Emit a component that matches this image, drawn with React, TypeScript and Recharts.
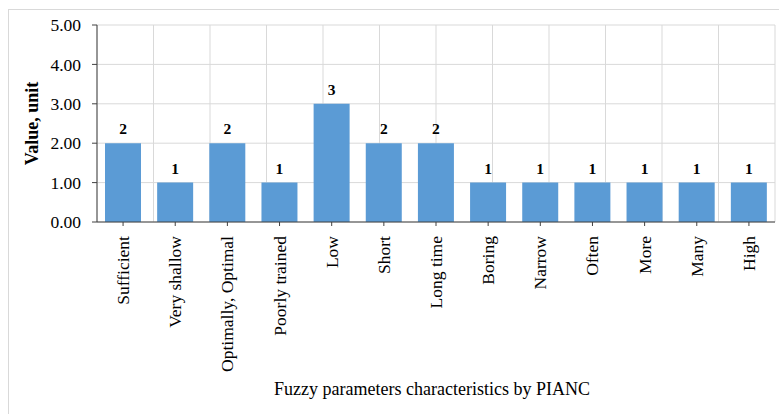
import React from "react";
import { BarChart, Bar, XAxis, YAxis, CartesianGrid, LabelList, Label } from "recharts";

const categories = [
  "Sufficient",
  "Very shallow",
  "Optimally, Optimal",
  "Poorly trained",
  "Low",
  "Short",
  "Long time",
  "Boring",
  "Narrow",
  "Often",
  "More",
  "Many",
  "High",
];
const values = [2, 1, 2, 1, 3, 2, 2, 1, 1, 1, 1, 1, 1];
const yTicks = [0, 1, 2, 3, 4, 5];
const boundaryTicks = [0, 1, 2, 3, 4, 5, 6, 7, 8, 9, 10, 11, 12, 13];

const data = categories.map((name, i) => ({ name, value: values[i] }));

const FONT = "Liberation Serif, Times New Roman, DejaVu Serif, serif";

// rotated category labels, reading bottom to top
const CategoryTick = (props: any) => {
  const { x, y, payload } = props;
  return (
    <text
      x={x}
      y={y + 8}
      transform={`rotate(-90, ${x}, ${y + 8})`}
      textAnchor="end"
      dominantBaseline="central"
      style={{ fontFamily: FONT }}
      fontSize={17.5}
      fill="#000"
    >
      {payload.value}
    </text>
  );
};

export default function App() {
  return (
    <div
      style={{
        position: "fixed",
        left: 8,
        top: 9,
        width: 771,
        height: 405,
        borderTop: "1px solid #d9d9d9",
        borderLeft: "1px solid #d9d9d9",
        background: "#fff",
        fontFamily: FONT,
      }}
    >
      <BarChart
        width={770}
        height={404}
        data={data}
        margin={{ top: 15, right: 4, left: 0, bottom: 0 }}
        barSize={36}
        style={{ fontFamily: FONT }}
      >
        <CartesianGrid xAxisId="grid" stroke="#d9d9d9" strokeWidth={1} />
        <XAxis
          xAxisId="grid"
          type="number"
          domain={[0, 13]}
          ticks={boundaryTicks}
          hide
        />
        <XAxis
          dataKey="name"
          interval={0}
          height={192}
          tick={<CategoryTick />}
          tickSize={4}
          axisLine={{ stroke: "#404040" }}
          tickLine={{ stroke: "#404040" }}
        >
          <Label
            content={(props: any) => {
              const { x, width } = props.viewBox;
              return (
                <text
                  x={x + width / 2 - 4}
                  y={379}
                  textAnchor="middle"
                  dominantBaseline="central"
                  style={{ fontFamily: FONT }}
                  fontSize={18}
                  fill="#000"
                >
                  Fuzzy parameters characteristics by PIANC
                </text>
              );
            }}
          />
        </XAxis>
        <YAxis
          width={88}
          domain={[0, 5]}
          ticks={yTicks}
          tickFormatter={(v: number) => v.toFixed(2)}
          tickSize={5}
          tickMargin={11}
          axisLine={{ stroke: "#404040" }}
          tickLine={{ stroke: "#404040" }}
          tick={{ style: { fontFamily: FONT }, fontSize: 17.5, fill: "#000" }}
        >
          <Label
            content={(props: any) => {
              const { x, y, height } = props.viewBox;
              const cx = x + 23;
              const cy = y + height / 2;
              return (
                <text
                  x={cx}
                  y={cy}
                  transform={`rotate(-90, ${cx}, ${cy})`}
                  textAnchor="middle"
                  dominantBaseline="central"
                  style={{ fontFamily: FONT }}
                  fontSize={18}
                  fontWeight="bold"
                  fill="#000"
                >
                  Value, unit
                </text>
              );
            }}
          />
        </YAxis>
        <Bar dataKey="value" fill="#5b9bd5" isAnimationActive={false}>
          <LabelList
            dataKey="value"
            position="top"
            offset={9}
            style={{ fontFamily: FONT }}
            fontSize={15.5}
            fontWeight="bold"
            fill="#000"
          />
        </Bar>
      </BarChart>
    </div>
  );
}
